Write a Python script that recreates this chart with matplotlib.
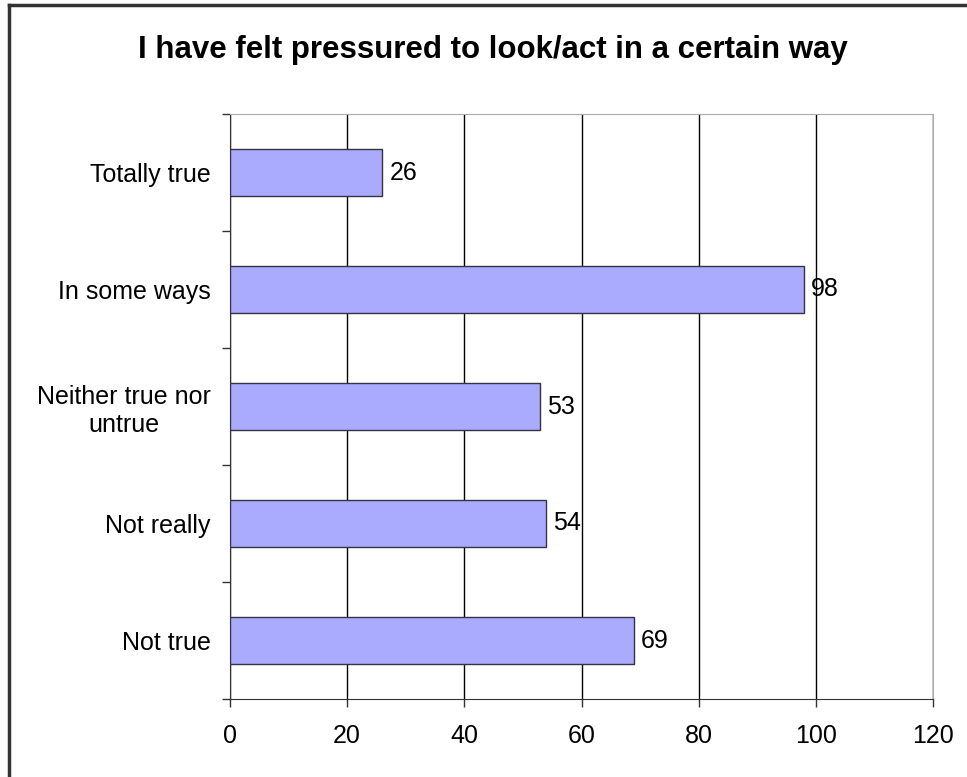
import matplotlib
matplotlib.use("Agg")
import matplotlib.pyplot as plt
from matplotlib.lines import Line2D

plt.rcParams['font.family'] = ['Liberation Sans', 'DejaVu Sans']

title = "I have felt pressured to look/act in a certain way"
categories = ["Totally true", "In some ways", "Neither true nor\nuntrue", "Not really", "Not true"]
values = [26, 98, 53, 54, 69]
xticks = [0, 20, 40, 60, 80, 100, 120]

W, H = 967, 777
fig = plt.figure(figsize=(W / 100, H / 100), dpi=100)
ax = fig.add_axes([230 / W, 1 - 699 / H, (933 - 230) / W, (699 - 114) / H])

ypos = list(range(len(categories)))[::-1]
ax.barh(ypos, values, height=0.4, color='#AAAAFF', edgecolor='#333344', linewidth=1.0, zorder=3)
for y, v in zip(ypos, values):
    ax.annotate(str(v), (v, y), xytext=(5, 0), textcoords='offset points',
                va='center', ha='left', fontsize=18, zorder=4)

ax.set_xlim(0, 120)
ax.set_ylim(-0.5, len(categories) - 0.5)
ax.set_xticks(xticks)
ax.set_xticklabels([str(t) for t in xticks], fontsize=18)
ax.set_yticks(ypos)
ax.set_yticklabels(categories, fontsize=18, multialignment='center')
ax.tick_params(axis='y', length=0, pad=14)
ax.set_yticks([i - 0.5 for i in range(len(categories) + 1)], minor=True)
ax.tick_params(axis='y', which='minor', length=6, width=1, color='#333333')
ax.tick_params(axis='x', length=6, width=1, color='#333333', pad=12)

ax.grid(axis='x', color='black', linewidth=1, zorder=0)
for s in ['top', 'right']:
    ax.spines[s].set_color('#aaaaaa')
for s in ['left', 'bottom']:
    ax.spines[s].set_color('#333333')

fig.text(493 / W, 1 - 58 / H, title, ha='center', va='baseline',
         fontsize=22.5, fontweight='bold')

# outer border (left and top edges)
fig.add_artist(Line2D([8.5 / W, 8.5 / W], [0, 1 - 5 / H], color='#333333', linewidth=2.5))
fig.add_artist(Line2D([8.5 / W, 1], [1 - 5 / H, 1 - 5 / H], color='#333333', linewidth=2.5))

fig.savefig('out.png', dpi=100)
